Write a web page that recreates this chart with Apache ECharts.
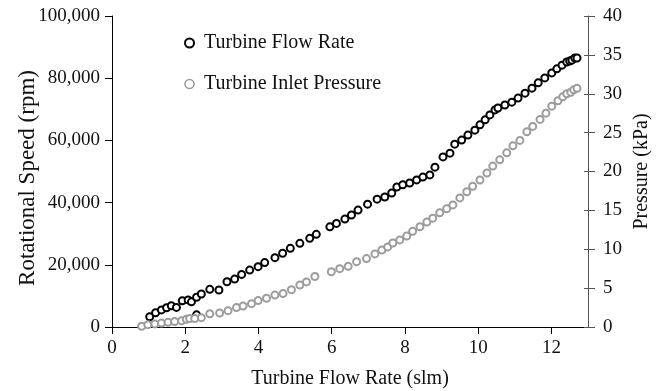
<!DOCTYPE html>
<html>
<head>
<meta charset="utf-8">
<script src="https://cdn.jsdelivr.net/npm/echarts@6/dist/echarts.min.js"></script>
<style>
html,body{margin:0;padding:0;background:#fff;}
#chart{width:657px;height:391px;}
</style>
</head>
<body>
<div id="chart"></div>
<script>
// Turbine Flow Rate series: flow (slm) vs rotational speed (rpm)
var speedFlow = [1.03,1.19,1.35,1.49,1.62,1.76,1.92,2.08,2.17,2.31,2.31,2.44,2.67,2.92,3.14,3.35,3.54,3.76,3.99,4.17,4.45,4.66,4.87,5.13,5.40,5.58,5.95,6.13,6.36,6.54,6.72,6.98,7.24,7.45,7.64,7.78,7.94,8.13,8.32,8.49,8.68,8.82,9.04,9.23,9.36,9.55,9.72,9.91,10.05,10.19,10.32,10.46,10.54,10.73,10.92,11.09,11.28,11.47,11.64,11.82,12.01,12.15,12.29,12.42,12.50,12.56,12.64,12.70];
var speedRpm = [3300,4600,5500,6200,6850,6300,8450,8700,8100,9550,3900,10600,12100,11900,14550,15400,16900,18300,19400,20700,22300,23700,25300,26900,28500,29800,32200,33300,34700,36000,37600,39500,41100,41800,43100,45000,45700,46300,47300,48200,48900,51400,54700,55900,58800,60100,61700,63300,65000,66600,68200,69800,70400,71400,72300,73600,75200,76800,78500,80100,81700,83000,84200,85200,85500,85800,86500,86500];
// Turbine Inlet Pressure series: flow (slm) vs pressure (kPa)
var pressFlow = [0.81,0.98,1.17,1.35,1.53,1.71,1.90,2.03,2.12,2.26,2.44,2.67,2.94,3.17,3.40,3.58,3.81,3.99,4.22,4.45,4.67,4.90,5.13,5.31,5.54,5.99,6.22,6.45,6.68,6.95,7.18,7.37,7.53,7.67,7.86,8.05,8.21,8.41,8.60,8.76,8.95,9.14,9.31,9.50,9.69,9.85,10.05,10.24,10.40,10.59,10.78,10.95,11.14,11.33,11.49,11.69,11.85,12.01,12.18,12.31,12.42,12.53,12.61,12.70];
var pressKpa = [0.1,0.3,0.4,0.5,0.6,0.7,0.8,1.0,1.1,1.1,1.2,1.7,1.8,2.1,2.5,2.7,3.0,3.4,3.7,4.1,4.3,4.8,5.4,5.8,6.5,7.1,7.5,7.8,8.4,8.8,9.4,9.9,10.3,10.8,11.2,11.7,12.3,12.9,13.5,14.0,14.7,15.2,15.7,16.6,17.4,18.1,18.9,19.8,20.7,21.5,22.4,23.3,24.0,25.1,25.8,26.7,27.5,28.4,29.1,29.6,30.0,30.2,30.5,30.7];

var xTicks = {min:0, max:13, interval:2};
var leftTicks = {min:0, max:100000, interval:20000};
var rightTicks = {min:0, max:40, interval:5};

function pairs(xs, ys){ return xs.map(function(x,i){ return [x, ys[i]]; }); }

var FONT = 'Liberation Serif';
var chart = echarts.init(document.getElementById('chart'));
chart.setOption({
  animation:false,
  backgroundColor:'#fff',
  textStyle:{fontFamily:FONT},
  grid:{left:112, right:69, top:16, bottom:64, containLabel:false, outerBoundsMode:'none'},
  legend:{
    orient:'vertical', left:184, top:33, itemGap:21, padding:0,
    itemWidth:9, itemHeight:9,
    textStyle:{fontFamily:FONT, fontSize:20, color:'#111', padding:[0,0,0,5]},
    data:[
      {name:'Turbine Flow Rate', icon:'circle', itemStyle:{color:'#fff', borderColor:'#000', borderWidth:2}},
      {name:'Turbine Inlet Pressure', icon:'circle', itemStyle:{color:'#fff', borderColor:'#9c9c9c', borderWidth:1.6}}
    ]
  },
  xAxis:{
    type:'value', min:xTicks.min, max:xTicks.max, interval:xTicks.interval,
    name:'Turbine Flow Rate (slm)', nameLocation:'middle', nameGap:42, nameMoveOverlap:false,
    nameTextStyle:{fontFamily:FONT, fontSize:20, color:'#111'},
    axisLine:{show:true, lineStyle:{color:'#000', width:1}},
    axisTick:{show:true, length:7, lineStyle:{color:'#000'}},
    axisLabel:{fontFamily:FONT, fontSize:19, color:'#111', margin:12, showMaxLabel:false},
    splitLine:{show:false}
  },
  yAxis:[
    {
      type:'value', position:'left', min:leftTicks.min, max:leftTicks.max, interval:leftTicks.interval,
      name:'Rotational Speed (rpm)', nameLocation:'middle', nameGap:73, nameMoveOverlap:false,
      nameTextStyle:{fontFamily:FONT, fontSize:23, color:'#111', padding:[0,13,0,0]},
      axisLine:{show:true, lineStyle:{color:'#000', width:1}},
      axisTick:{show:true, length:7, lineStyle:{color:'#000'}},
      axisLabel:{fontFamily:FONT, fontSize:19, color:'#111', margin:12,
        formatter:function(v){ return v.toLocaleString('en-US'); }},
      splitLine:{show:false}
    },
    {
      type:'value', position:'right', min:rightTicks.min, max:rightTicks.max, interval:rightTicks.interval,
      name:'Pressure (kPa)', nameLocation:'middle', nameGap:44, nameRotate:90, nameMoveOverlap:false,
      nameTextStyle:{fontFamily:FONT, fontSize:20, color:'#111'},
      axisLine:{show:true, lineStyle:{color:'#555', width:1}},
      axisTick:{show:true, length:7, lineStyle:{color:'#555'}},
      axisLabel:{fontFamily:FONT, fontSize:19, color:'#111', margin:15},
      splitLine:{show:false}
    },
    {
      type:'value', position:'right', min:rightTicks.min, max:rightTicks.max, interval:rightTicks.interval,
      axisLine:{show:false},
      axisTick:{show:true, inside:true, length:4, lineStyle:{color:'#555'}},
      axisLabel:{show:false},
      splitLine:{show:false}
    }
  ],
  series:[
    {
      name:'Turbine Flow Rate', type:'scatter', yAxisIndex:0,
      symbol:'circle', symbolSize:7,
      itemStyle:{color:'#fff', borderColor:'#000', borderWidth:2, opacity:1},
      data:pairs(speedFlow, speedRpm), z:2
    },
    {
      name:'Turbine Inlet Pressure', type:'scatter', yAxisIndex:1,
      symbol:'circle', symbolSize:7,
      itemStyle:{color:'#fff', borderColor:'#9c9c9c', borderWidth:2, opacity:1},
      data:pairs(pressFlow, pressKpa), z:3
    }
  ]
});
</script>
</body>
</html>
